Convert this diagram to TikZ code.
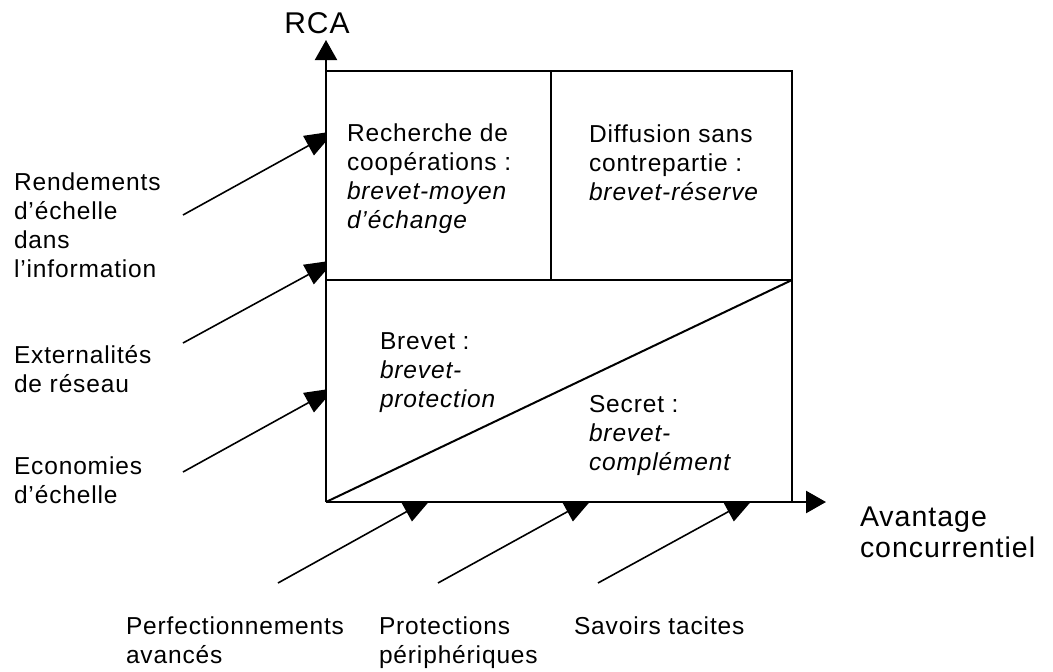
\documentclass[tikz,border=0pt]{standalone}
\usepackage{fontspec}
\setmainfont{Liberation Sans}[LetterSpace=3.5]
\usetikzlibrary{arrows.meta, positioning}

\begin{document}
\begin{tikzpicture}[
    x=1pt, y=-1pt,
    line width=2pt,
    >={Triangle[length=20pt, width=22pt]},
    cause/.style={-{Triangle[length=30pt, width=22pt]}, line width=1.6pt, shorten >=-10pt},
    txt/.style={align=left, inner sep=0pt, anchor=base west, font=\fontsize{24.5}{28.7}\selectfont},
    big/.style={align=left, inner sep=0pt, anchor=base west, font=\fontsize{28.5}{30.5}\selectfont},
]

    \useasboundingbox (0,0) rectangle (1053,672);

    % corners of the matrix
    \coordinate (o)    at (326,502);
    \coordinate (tl)   at (326,71);
    \coordinate (tr)   at (792,71);
    \coordinate (br)   at (792,502);
    \coordinate (ml)   at (326,280);
    \coordinate (mr)   at (792,280);
    \coordinate (mt)   at (551,71);
    \coordinate (mm)   at (551,280);
    \coordinate (ytip) at (326,40);
    \coordinate (xtip) at (826,502);

    % labels (placed by the baseline of their last line)
    \node[txt] (rend) at (13,277)  {Rendements\\d’échelle\\dans\\l’information};
    \node[txt] (ext)  at (13,392)  {Externalités\\de réseau};
    \node[txt] (eco)  at (13,503)  {Economies\\d’échelle};
    \node[txt] (perf) at (125,663) {Perfectionnements\\avancés};
    \node[txt] (prot) at (378,663) {Protections\\périphériques};
    \node[txt] (sav)  at (573,634) {Savoirs tacites};

    % where the causes start and hit the axes
    \coordinate (rend-s) at (183,215);  \coordinate (rend-e) at (326,136);
    \coordinate (ext-s)  at (183,343);  \coordinate (ext-e)  at (326,265);
    \coordinate (eco-s)  at (183,472);  \coordinate (eco-e)  at (326,393);
    \coordinate (perf-s) at (278,583);  \coordinate (perf-e) at (424,502);
    \coordinate (prot-s) at (438,583);  \coordinate (prot-e) at (585,502);
    \coordinate (sav-s)  at (598,583);  \coordinate (sav-e)  at (746,502);

    \draw[cause] (rend-s) -- (rend-e);
    \draw[cause] (ext-s)  -- (ext-e);
    \draw[cause] (eco-s)  -- (eco-e);
    \draw[cause] (perf-s) -- (perf-e);
    \draw[cause] (prot-s) -- (prot-e);
    \draw[cause] (sav-s)  -- (sav-e);

    % matrix
    \fill[white] (o) rectangle (tr);
    \draw (tl) -- (tr) -- (br);
    \draw (ml) -- (mr);
    \draw (mt) -- (mm);
    \draw (o)  -- (mr);
    \draw[->] (o) -- (ytip);
    \draw[->, line width=2.6pt] (o) -- (xtip);

    \node[big, anchor=base, font=\fontsize{30}{32}\selectfont] (rca) at (317,33) {RCA};
    \node[big] (avan) at (859,557) {Avantage\\concurrentiel};

    \node[txt] (coop) at (346,228) {Recherche de\\coopérations :\\\textit{brevet-moyen}\\\textit{d’échange}};
    \node[txt] (diff) at (588,200) {Diffusion sans\\contrepartie :\\\textit{brevet-réserve}};
    \node[txt] (brev) at (379,407) {Brevet :\\\textit{brevet-}\\\textit{protection}};
    \node[txt] (secr) at (588,470) {Secret :\\\textit{brevet-}\\\textit{complément}};
\end{tikzpicture}
\end{document}
